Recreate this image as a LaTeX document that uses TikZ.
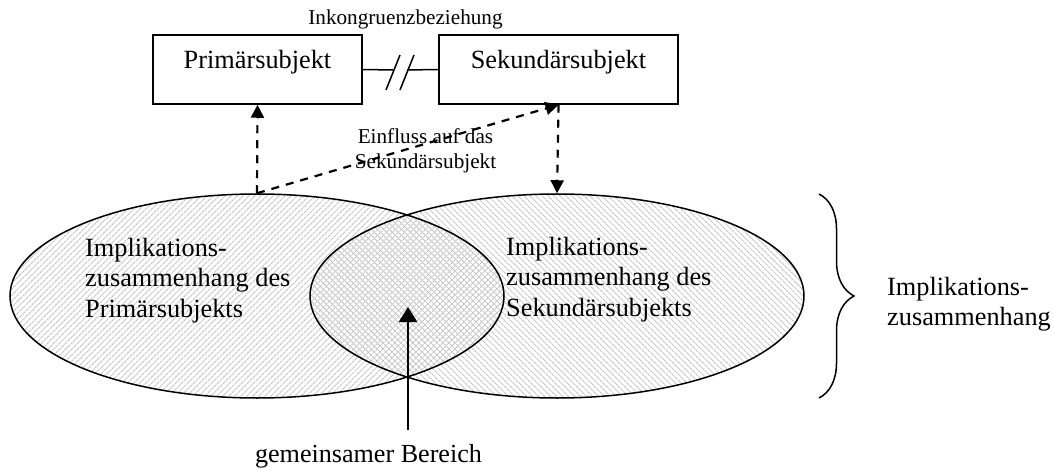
\documentclass[tikz,border=0pt]{standalone}
\usepackage{fontspec}
\setmainfont{Liberation Serif}
\usetikzlibrary{arrows.meta,shapes.geometric,patterns.meta,decorations.pathreplacing}
\begin{document}
\begin{tikzpicture}[x=1pt,y=-1pt,
  subjbox/.style={draw,line width=1.5pt,inner sep=0pt,text height=18pt,text depth=19pt,minimum height=69pt,font=\fontsize{26.3}{30}\selectfont},
  ell/.style={ellipse,draw,line width=1.5pt,minimum width=494pt,minimum height=204pt,inner sep=0pt},
  big/.style={font=\fontsize{26.3}{30.5}\selectfont,inner sep=0pt,align=left},
  small/.style={font=\fontsize{21.2}{25}\selectfont,inner sep=0pt},
  dasharrow/.style={line width=2.2pt,dash pattern=on 8pt off 7pt,-{Triangle[length=13pt,width=13pt]}},
  hatchA/.style={pattern={Lines[angle=45,distance=4pt,line width=1.1pt]},pattern color=gray!45},
  hatchB/.style={pattern={Lines[angle=-45,distance=4pt,line width=1.1pt]},pattern color=gray!45},
]
\useasboundingbox (0,0) rectangle (1054,470);

% fills
\path[hatchA] (257,296) ellipse [x radius=247, y radius=102];
\path[hatchB] (557,296) ellipse [x radius=247, y radius=102];
% outlines
\node[ell] (lell) at (257,296) {};
\node[ell] (rell) at (557,296) {};

% boxes
\node[subjbox,minimum width=209pt] (prim) at (257.5,69.5) {Primärsubjekt};
\node[subjbox,minimum width=239pt] (sek) at (558.5,69.5) {Sekundärsubjekt};

% incongruence connector
\coordinate (gl) at (393,70);
\coordinate (gr) at (407,70);
\draw[line width=1.5pt] (prim.east) -- (gl);
\draw[line width=1.5pt] (gr) -- (sek.west);
\coordinate (s1a) at (386,90); \coordinate (s1b) at (400,55);
\coordinate (s2a) at (400,90); \coordinate (s2b) at (414,55);
\draw[line width=1.5pt] (s1a) -- (s1b);
\draw[line width=1.5pt] (s2a) -- (s2b);
\node[small,anchor=base] (ink) at (405.5,25) {Inkongruenzbeziehung};

% dashed arrows
\draw[dasharrow] (lell.north) -- (prim.south);
\draw[dasharrow] (sek.south) -- (rell.north);
\draw[dasharrow] (lell.north) -- (sek.south);
\node[small,align=center,anchor=north] (einf) at (425.5,128.5) {Einfluss auf das\\Sekundärsubjekt};

% texts in ellipses
\node[big,anchor=north west] (ltxt) at (85,238) {Implikations-\\zusammenhang des\\Primärsubjekts};
\node[big,anchor=north west] (rtxt) at (506,237) {Implikations-\\zusammenhang des\\Sekundärsubjekts};

% common area arrow
\coordinate (ga) at (408,430);
\coordinate (gt) at (408,307);
\draw[line width=2.7pt,-{Triangle[length=15pt,width=18pt]}] (ga) -- (gt);
\node[font=\fontsize{26.1}{30}\selectfont,inner sep=0pt,anchor=base] (gem) at (368.5,462) {gemeinsamer Bereich};

% brace
\coordinate (bt) at (819,194);
\coordinate (bb) at (819,398);
\draw[line width=1.5pt,decorate,decoration={brace,amplitude=35pt}] (bt) -- (bb);
\node[big,anchor=north west] (imp) at (887,277) {Implikations-\\zusammenhang};
\end{tikzpicture}
\end{document}
